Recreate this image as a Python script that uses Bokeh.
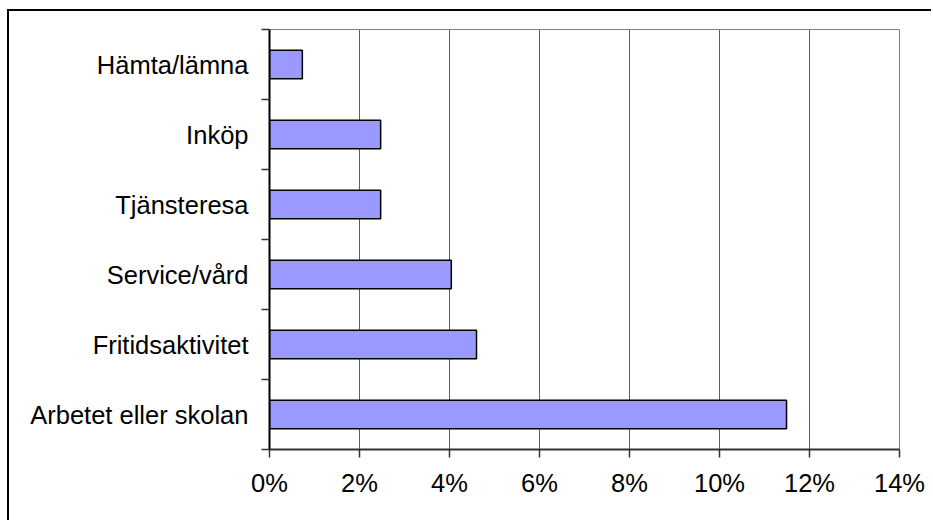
import numpy as np
from bokeh.plotting import figure
from bokeh.models import Range1d, FixedTicker, NumeralTickFormatter
from bokeh.embed import file_html
from bokeh.resources import INLINE

# Data (top to bottom)
categories = ["Hämta/lämna", "Inköp", "Tjänsteresa", "Service/vård",
              "Fritidsaktivitet", "Arbetet eller skolan"]
values = [0.0073, 0.0247, 0.0247, 0.0404, 0.0460, 0.1149]
x_ticks = [0.0, 0.02, 0.04, 0.06, 0.08, 0.10, 0.12, 0.14]

n = len(categories)
ypos = [n - i - 0.5 for i in range(n)]
boundaries = list(range(n + 1))

FONT = "Liberation Sans"

p = figure(width=924, height=511, output_backend="svg", toolbar_location=None,
           x_range=Range1d(0, 0.14), y_range=Range1d(0, n),
           min_border_left=260, min_border_right=34,
           min_border_top=18, min_border_bottom=73,
           styles={"margin-left": "7px", "margin-top": "9px",
                   "border-left": "2px solid black", "border-top": "2px solid black"})

p.hbar(y=ypos, right=values, left=0, height=0.41,
       fill_color="#9999FF", line_color="black", line_width=1.5)

# x axis
p.xaxis.ticker = FixedTicker(ticks=x_ticks)
p.xaxis.formatter = NumeralTickFormatter(format="0%")
p.xaxis.major_tick_out = 8
p.xaxis.major_tick_in = 0
p.xaxis.minor_tick_line_color = None
p.xaxis.axis_line_color = "#333333"
p.xaxis.axis_line_width = 2
p.xaxis.major_tick_line_color = "#333333"
p.xaxis.major_tick_line_width = 1.5
p.xaxis.major_label_text_font = FONT
p.xaxis.major_label_text_font_size = "25.5px"
p.xaxis.major_label_text_color = "black"
p.xaxis.major_label_standoff = 11

# y axis: labels at centers, ticks at category boundaries
p.yaxis.ticker = FixedTicker(ticks=ypos, minor_ticks=boundaries)
p.yaxis.major_label_overrides = {y: c for y, c in zip(ypos, categories)}
p.yaxis.major_tick_line_color = None
p.yaxis.major_tick_out = 0
p.yaxis.major_tick_in = 0
p.yaxis.minor_tick_out = 8
p.yaxis.minor_tick_in = 0
p.yaxis.minor_tick_line_color = "#333333"
p.yaxis.minor_tick_line_width = 1.5
p.yaxis.axis_line_color = "black"
p.yaxis.axis_line_width = 2
p.yaxis.major_label_text_font = FONT
p.yaxis.major_label_text_font_size = "25.5px"
p.yaxis.major_label_text_color = "black"
p.yaxis.major_label_standoff = 13

# grid
p.xgrid.ticker = FixedTicker(ticks=x_ticks)
p.xgrid.grid_line_color = "#606060"
p.xgrid.grid_line_width = 1
p.ygrid.grid_line_color = None

p.outline_line_color = "#808080"
p.outline_line_width = 1
p.background_fill_color = "white"
p.border_fill_color = "white"

open("out.html", "w").write(file_html(p, INLINE))
